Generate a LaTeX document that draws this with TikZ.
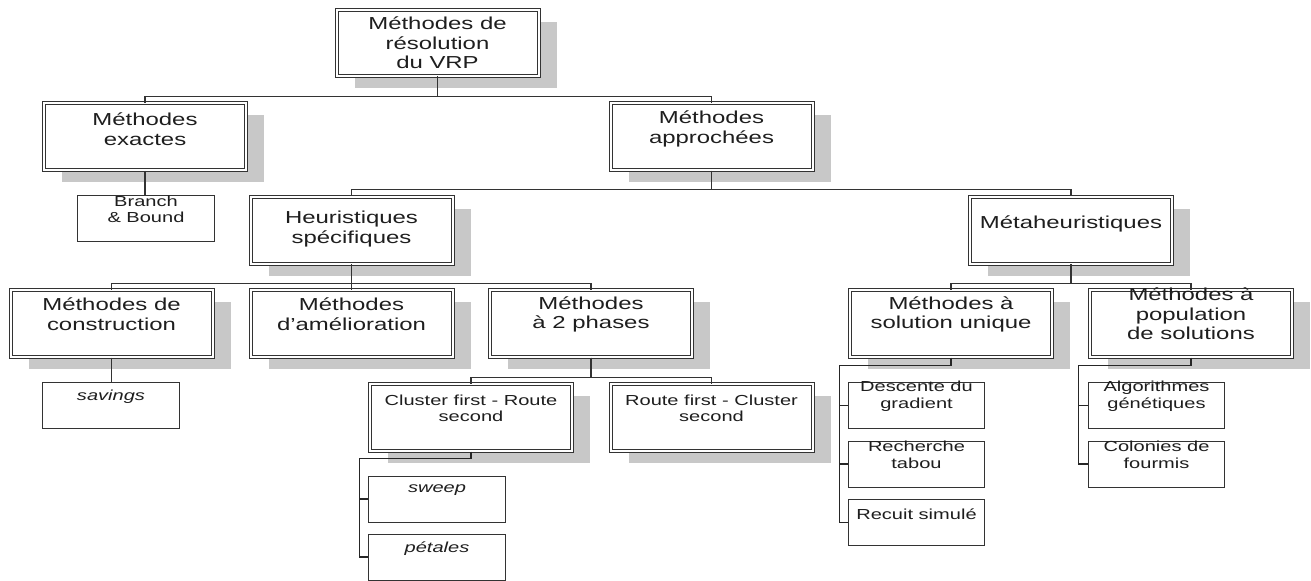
\documentclass[tikz,border=0pt]{standalone}
\usepackage{fontspec}
\setmainfont{Liberation Sans}[FakeStretch=1.38]
\usetikzlibrary{shadows,calc}
\definecolor{ink}{HTML}{1E1E1E}
\definecolor{edge}{HTML}{333333}
\definecolor{shade}{HTML}{C8C8C8}

\tikzset{
  % framed boxes: double outline and a grey drop shadow
  bigbox/.style={draw=edge, line width=0.75pt, double=white, double distance=1.5pt,
    fill=white, minimum width=151.5pt, minimum height=50.25pt, inner sep=0pt,
    general shadow={fill=shade, shadow xshift=13.5pt, shadow yshift=-9pt}},
  % plain leaf boxes
  leafbox/.style={draw=edge, line width=0.75pt, fill=white,
    minimum width=102.4pt, minimum height=34.5pt, inner sep=0pt},
  bigtext/.style={font=\fontsize{13}{14.6}\selectfont, align=center, text=ink, inner sep=0pt},
  midtext/.style={font=\fontsize{10.9}{12}\selectfont, align=center, text=ink, inner sep=0pt},
  leaftext/.style={font=\fontsize{10.9}{12.5}\selectfont, align=center, text=ink, inner sep=0pt},
  conn/.style={draw=edge, line width=0.9pt},
  spine/.style={draw=black!85, line width=1.2pt},
}

\begin{document}
\begin{tikzpicture}[x=0.75pt, y=-0.75pt]
\fill[white] (0,0) rectangle (1311,581);
\useasboundingbox (0,0) rectangle (1311,581);

% ---- framed boxes ----
\node[bigbox, minimum height=49.5pt] (root) at (437.5,43) {};
\node[bigbox] (exactes) at (145,137) {};
\node[bigbox] (approch) at (711.5,137) {};
\node[bigbox] (heur) at (351.5,230.5) {};
\node[bigbox] (meta) at (1071,230.5) {};
\node[bigbox] (constr) at (111.5,323.5) {};
\node[bigbox] (amel) at (351.5,323.5) {};
\node[bigbox] (deux) at (591,323.5) {};
\node[bigbox] (unique) at (951,323.5) {};
\node[bigbox] (popu) at (1191,323.5) {};
\node[bigbox] (cluster) at (471,417.5) {};
\node[bigbox] (route) at (711.5,417.5) {};

% ---- leaf boxes ----
\node[leafbox] (bb) at (146,218.5) {};
\node[leafbox] (savings) at (111,405.5) {};
\node[leafbox] (sweep) at (437,499) {};
\node[leafbox] (petales) at (437,557) {};
\node[leafbox] (descente) at (916.5,405.5) {};
\node[leafbox] (tabou) at (916.5,464) {};
\node[leafbox] (recuit) at (916.5,522.5) {};
\node[leafbox] (genet) at (1156.5,405.5) {};
\node[leafbox] (fourmis) at (1156.5,464) {};

% ---- labels ----
\node[bigtext] (root-t) at ([yshift=0pt]root) {Méthodes de\\résolution\\du VRP};
\node[bigtext] (exactes-t) at ([yshift=6pt]exactes) {Méthodes\\exactes};
\node[bigtext] (approch-t) at ([yshift=6pt]approch) {Méthodes\\approchées};
\node[bigtext] (heur-t) at ([yshift=1pt]heur) {Heuristiques\\spécifiques};
\node[bigtext] (meta-t) at ([yshift=5pt]meta) {Métaheuristiques};
\node[bigtext] (constr-t) at ([yshift=7pt]constr) {Méthodes de\\construction};
\node[bigtext] (amel-t) at ([yshift=7pt]amel) {Méthodes\\d'amélioration};
\node[bigtext] (deux-t) at ([yshift=7pt]deux) {Méthodes\\à 2 phases};
\node[bigtext] (unique-t) at ([yshift=7pt]unique) {Méthodes à\\solution unique};
\node[bigtext] (popu-t) at ([yshift=7pt]popu) {Méthodes à\\population\\de solutions};
\node[midtext] (cluster-t) at ([yshift=7pt]cluster) {Cluster first - Route\\second};
\node[midtext] (route-t) at ([yshift=7pt]route) {Route first - Cluster\\second};

\node[leaftext] (bb-t) at ([yshift=7pt]bb) {Branch\\\& Bound};
\node[leaftext] (savings-t) at ([yshift=6.5pt]savings) {\itshape savings};
\node[leaftext] (sweep-t) at ([yshift=6.5pt]sweep) {\itshape sweep};
\node[leaftext] (petales-t) at ([yshift=6.5pt]petales) {\itshape pétales};
\node[leaftext] (descente-t) at ([yshift=7pt]descente) {Descente du\\gradient};
\node[leaftext] (tabou-t) at ([yshift=7pt]tabou) {Recherche\\tabou};
\node[leaftext] (recuit-t) at ([yshift=6.5pt]recuit) {Recuit simulé};
\node[leaftext] (genet-t) at ([yshift=7pt]genet) {Algorithmes\\génétiques};
\node[leaftext] (fourmis-t) at ([yshift=7pt]fourmis) {Colonies de\\fourmis};

% ---- tree connectors ----
\draw[conn] (root.south) -- ++(0,20) -| (exactes.north);
\draw[conn] (root.south) -- ++(0,20) -| (approch.north);
\draw[conn] (exactes.south) -- (bb.north -| exactes.south);
\draw[conn] (approch.south) -- ++(0,18.5) -| (heur.north);
\draw[conn] (approch.south) -- ++(0,18.5) -| (meta.north);
\draw[conn] (heur.south) -- ++(0,19) -| (constr.north);
\draw[conn] (heur.south) -- ++(0,19) -| (amel.north);
\draw[conn] (heur.south) -- ++(0,19) -| (deux.north);
\draw[conn] (meta.south) -- ++(0,19) -| (unique.north);
\draw[conn] (meta.south) -- ++(0,19) -| (popu.north);
\draw[conn] (constr.south) -- (savings.north -| constr.south);
\draw[conn] (deux.south) -- ++(0,20) -| (cluster.north);
\draw[conn] (deux.south) -- ++(0,20) -| (route.north);

% ---- side spines to the leaf lists ----
\draw[spine] (cluster.south) -- ++(0,7) -| ($(petales.west)+(-8.75,0)$) -- (petales.west);
\draw[spine] ($(sweep.west)+(-8.75,0)$) -- (sweep.west);
\draw[spine] (unique.south) -- ++(0,8) -| ($(recuit.west)+(-8.25,0)$) -- (recuit.west);
\draw[spine] ($(descente.west)+(-8.25,0)$) -- (descente.west);
\draw[spine] ($(tabou.west)+(-8.25,0)$) -- (tabou.west);
\draw[spine] (popu.south) -- ++(0,8) -| ($(fourmis.west)+(-9.25,0)$) -- (fourmis.west);
\draw[spine] ($(genet.west)+(-9.25,0)$) -- (genet.west);
\end{tikzpicture}
\end{document}
